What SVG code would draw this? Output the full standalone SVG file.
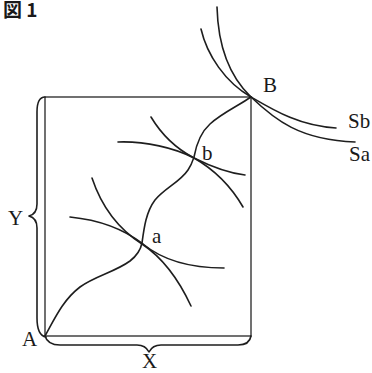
<svg xmlns="http://www.w3.org/2000/svg" width="372" height="373" viewBox="0 0 372 373">
  <style>
    .ln { fill: none; stroke: #1e1e1e; stroke-width: 1.6; stroke-linecap: round; stroke-linejoin: round; }
    .box { fill: none; stroke: #262626; stroke-width: 1.3; }
    .lbl { font-family: "Liberation Serif", "Times New Roman", serif; font-size: 21px; fill: #1a1a1a; }
    .ttl { font-family: "Noto Sans CJK JP", "Noto Sans", sans-serif; font-size: 19px; font-weight: bold; fill: #1a1a1a; }
  </style>
  <rect width="372" height="373" fill="#ffffff"/>
  <g id="title"><text class="ttl" x="3" y="17">図 1</text></g>
  <g id="box">
    <rect class="box" x="45" y="97" width="206" height="239"/>
  </g>
  <g id="braces">
    <path class="ln" d="M45,97 C39,97 37,102 37,112 L37,204 C37,212 33,215 29,216 C33,217 37,220 37,228 L37,318 C37,330 40,336 46,337"/>
    <path class="ln" d="M45,336 C47,343 52,345 60,345 L137,345 C143,345 147,348 149,352 C151,348 155,345 161,345 L238,345 C246,345 250,342 251,336"/>
  </g>
  <g id="connectors">
    <path id="contract" class="ln" d="M45,336 C55,318 63,300 80,287 C95,276 115,272 130,261 C139,254 141,248 142,243 C144,228 146,212 155,200 C165,188 180,182 188,170 C192,164 193,160 194,157 C196,146 200,133 210,124 C222,113 238,106 251,97"/>
    <path class="ln" d="M92,178 C102,208 120,230 142,244 C160,256 178,278 191,306"/>
    <path class="ln" d="M70,217 C100,220 125,230 143,244 C160,258 185,268 224,268"/>
    <path class="ln" d="M151,117 C160,132 175,148 194,158 C215,170 232,188 243,207"/>
    <path class="ln" d="M118,142 C145,141 175,148 194,158 C210,166 228,173 245,175"/>
    <path id="Sa-curve" class="ln" d="M217,7 C218,45 228,75 251,97 C275,120 300,140 355,142"/>
    <path id="Sb-curve" class="ln" d="M201,29 C207,55 225,82 251,97 C275,111 300,126 336,128"/>
  </g>
  <g id="node-A"><text class="lbl" x="22" y="346">A</text></g>
  <g id="node-B"><text class="lbl" x="263" y="92">B</text></g>
  <g id="node-a"><text class="lbl" x="152" y="243">a</text></g>
  <g id="node-b"><text class="lbl" x="202" y="160">b</text></g>
  <g id="label-Sb"><text class="lbl" x="348" y="128">Sb</text></g>
  <g id="label-Sa"><text class="lbl" x="349" y="161">Sa</text></g>
  <g id="label-Y"><text class="lbl" x="8" y="225">Y</text></g>
  <g id="label-X"><text class="lbl" x="142" y="368">X</text></g>
</svg>
